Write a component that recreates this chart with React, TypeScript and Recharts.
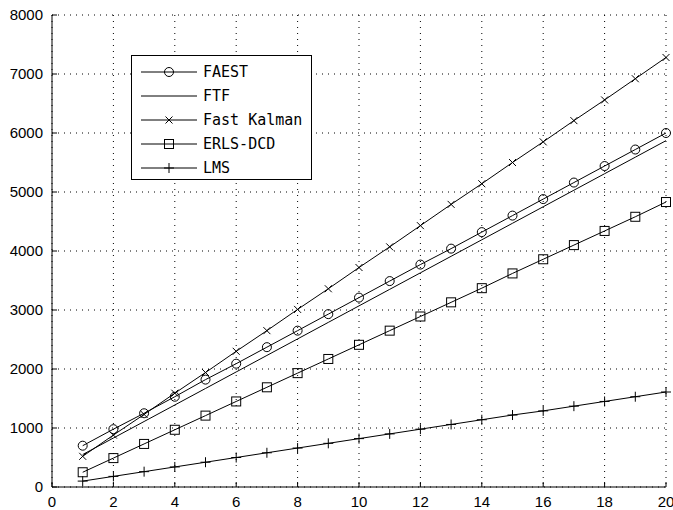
import { CartesianGrid, Line, LineChart, XAxis, YAxis } from 'recharts';

// filter length / complexity points
const N = [1, 2, 3, 4, 5, 6, 7, 8, 9, 10, 11, 12, 13, 14, 15, 16, 17, 18, 19, 20];
const FAEST = [700, 980, 1250, 1530, 1820, 2090, 2370, 2650, 2930, 3210, 3490, 3770, 4040, 4320, 4600, 4880, 5160, 5440, 5720, 6000];
const FTF = [550, 830, 1110, 1390, 1670, 1950, 2230, 2510, 2790, 3070, 3350, 3630, 3910, 4190, 4470, 4750, 5030, 5310, 5590, 5870];
const FAST_KALMAN = [520, 880, 1230, 1590, 1940, 2300, 2650, 3010, 3360, 3720, 4070, 4430, 4790, 5140, 5500, 5850, 6210, 6560, 6920, 7280];
const ERLS_DCD = [250, 490, 730, 970, 1210, 1450, 1690, 1930, 2170, 2410, 2650, 2890, 3130, 3370, 3620, 3860, 4100, 4340, 4580, 4830];
const LMS = [100, 180, 260, 340, 420, 500, 580, 660, 740, 820, 900, 980, 1060, 1140, 1220, 1290, 1370, 1450, 1530, 1610];

const X_TICKS = [0, 2, 4, 6, 8, 10, 12, 14, 16, 18, 20];
const Y_TICKS = [0, 1000, 2000, 3000, 4000, 5000, 6000, 7000, 8000];

type Mark = 'circle' | 'none' | 'x' | 'square' | 'plus';

const SERIES: { key: string; name: string; mark: Mark }[] = [
  { key: 'faest', name: 'FAEST', mark: 'circle' },
  { key: 'ftf', name: 'FTF', mark: 'none' },
  { key: 'fk', name: 'Fast Kalman', mark: 'x' },
  { key: 'erls', name: 'ERLS-DCD', mark: 'square' },
  { key: 'lms', name: 'LMS', mark: 'plus' },
];

const data = N.map((n, i) => ({
  n,
  faest: FAEST[i],
  ftf: FTF[i],
  fk: FAST_KALMAN[i],
  erls: ERLS_DCD[i],
  lms: LMS[i],
}));

const INK = '#000';
const tickFont = { fontFamily: '"Liberation Sans", Arial, Helvetica, sans-serif', fontSize: 15 };

// matlab-ish markers
const marker = (kind: Mark, cx: number, cy: number, key?: string | number) => {
  if (kind === 'circle') return <circle key={key} cx={cx} cy={cy} r={4.5} fill="none" stroke={INK} strokeWidth={1} />;
  if (kind === 'square') return <rect key={key} x={cx - 4.5} y={cy - 4.5} width={9} height={9} fill="none" stroke={INK} strokeWidth={1} />;
  if (kind === 'x')
    return (
      <path key={key} d={`M${cx - 3.5},${cy - 3.5}L${cx + 3.5},${cy + 3.5}M${cx - 3.5},${cy + 3.5}L${cx + 3.5},${cy - 3.5}`} stroke={INK} strokeWidth={1} />
    );
  if (kind === 'plus') return <path key={key} d={`M${cx - 5},${cy}L${cx + 5},${cy}M${cx},${cy - 5}L${cx},${cy + 5}`} stroke={INK} strokeWidth={1} />;
  return <g key={key} />;
};

const XTick = ({ x, y, payload }: any) => (
  <g>
    <line x1={x} y1={y} x2={x} y2={y - 5} stroke={INK} />
    <text x={x} y={y + 20} textAnchor="middle" style={tickFont} fill={INK}>
      {payload.value}
    </text>
  </g>
);

const YTick = ({ x, y, payload }: any) => (
  <g>
    <line x1={x} y1={y} x2={x + 5} y2={y} stroke={INK} />
    <text x={x - 9} y={y + 5} textAnchor="end" style={tickFont} fill={INK}>
      {payload.value}
    </text>
  </g>
);

const LegendBox = () => (
  <svg width={181} height={125} style={{ position: 'absolute', left: 131, top: 55 }}>
    <rect x={0.5} y={0.5} width={180} height={124} fill="#fff" stroke={INK} />
    {SERIES.map((s, i) => {
      const cy = 17 + i * 24;
      return (
        <g key={s.key}>
          <line x1={10} y1={cy} x2={66} y2={cy} stroke={INK} />
          {marker(s.mark, 38, cy)}
          <text x={72} y={cy + 5} style={{ fontFamily: '"DejaVu Sans Mono", monospace', fontSize: 15 }} fill={INK}>
            {s.name}
          </text>
        </g>
      );
    })}
  </svg>
);

const App = () => (
  <div style={{ position: 'absolute', left: 0, top: 0, width: 673, height: 510, background: '#fff' }}>
    <LineChart width={673} height={510} data={data} margin={{ top: 15, right: 7, bottom: 0, left: 0 }}>
      <CartesianGrid stroke={INK} strokeDasharray="1 5" />
      <XAxis
        dataKey="n"
        type="number"
        domain={[0, 20]}
        ticks={X_TICKS}
        height={23}
        tickSize={0}
        tickMargin={0}
        tick={<XTick />}
        axisLine={{ stroke: INK }}
        tickLine={false}
        interval={0}
      />
      <YAxis
        type="number"
        domain={[0, 8000]}
        ticks={Y_TICKS}
        width={52}
        tickSize={0}
        tickMargin={0}
        tick={<YTick />}
        axisLine={{ stroke: INK }}
        tickLine={false}
        interval={0}
      />
      {SERIES.map((s) => (
        <Line
          key={s.key}
          dataKey={s.key}
          name={s.name}
          type="linear"
          stroke={INK}
          strokeWidth={1}
          isAnimationActive={false}
          activeDot={false}
          dot={s.mark === 'none' ? false : (p: any) => marker(s.mark, p.cx, p.cy, `${s.key}-${p.index}`)}
        />
      ))}
    </LineChart>
    <LegendBox />
  </div>
);

export default App;
